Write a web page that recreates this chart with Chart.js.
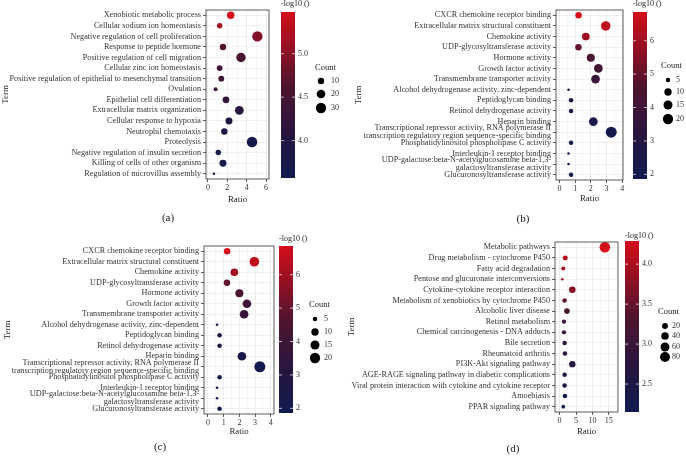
<!DOCTYPE html>
<html>
<head>
<meta charset="utf-8">
<script src="https://cdn.jsdelivr.net/npm/chart.js"></script>
<style>
body{margin:0;background:#fff;}
#wrap{position:relative;width:686px;height:458px;overflow:hidden;}
canvas{position:absolute;width:343px;height:229px;}
</style>
</head>
<body>
<div id="wrap">
<canvas id="ca" width="343" height="229" style="left:0;top:0"></canvas>
<canvas id="cb" width="343" height="229" style="left:343px;top:0"></canvas>
<canvas id="cc" width="343" height="229" style="left:0;top:229px"></canvas>
<canvas id="cd" width="343" height="229" style="left:343px;top:229px"></canvas>
</div>
<script>
// (a) GO biological process
let termsA = [
    "Xenobiotic metabolic process",
    "Cellular sodium ion homeostasis",
    "Negative regulation of cell proliferation",
    "Response to peptide hormone",
    "Positive regulation of cell migration",
    "Cellular zinc ion homeostasis",
    "Positive regulation of epithelial to mesenchymal transition",
    "Ovulation",
    "Epithelial cell differentiation",
    "Extracellular matrix organization",
    "Cellular response to hypoxia",
    "Neutrophil chemotaxis",
    "Proteolysis",
    "Negative regulation of insulin secretion",
    "Killing of cells of other organism",
    "Regulation of microvillus assembly"
];
let ratioA = [2.35,1.21,5.1,1.55,3.41,1.21,1.38,0.79,1.86,3.24,2.17,1.69,4.55,1.07,1.55,0.62];
let logpA  = [5.48,5.2,4.95,4.62,4.55,4.48,4.4,4.3,4.2,4.05,3.95,3.88,3.72,3.66,3.62,3.57];
let countA = [14,7,30,10,24,8,8,4,11,20,12,10,32,7,12,3];
let xticksA = [0,2,4,6];
let cbTicksA = [4.0,4.5,5.0];
let legCountA = [10,20,30];

// (b) and (c) GO molecular function
let termsB = [
    "CXCR chemokine receptor binding",
    "Extracellular matrix structural constituent",
    "Chemokine activity",
    "UDP-glycosyltransferase activity",
    "Hormone activity",
    "Growth factor activity",
    "Transmembrane transporter activity",
    "Alcohol dehydrogenase activity, zinc-dependent",
    "Peptidoglycan binding",
    "Retinol dehydrogenase activity",
    "Heparin binding",
    ["Transcriptional repressor activity, RNA polymerase II","transcription regulatory region sequence-specific binding"],
    "Phosphatidylinositol phospholipase C activity",
    "Interleukin-1 receptor binding",
    ["UDP-galactose:beta-N-acetylglucosamine beta-1,3-","galactosyltransferase activity"],
    "Glucuronosyltransferase activity"
];
let ratioB = [1.22,2.95,1.68,1.21,2.0,2.48,2.3,0.58,0.74,0.74,2.16,3.3,0.74,0.58,0.58,0.74];
let logpB  = [6.86,6.5,6.0,5.0,4.4,4.15,3.9,2.6,2.5,2.45,2.3,2.1,2.05,2.0,1.95,1.86];
let countB = [8,17,11,8,12,14,14,4,5,5,14,23,5,4,4,5];
let xticksB = [0,1,2,3,4];
let cbTicksB = [2,3,4,5,6];
let legCountB = [5,10,15,20];

// (d) KEGG
let termsD = [
    "Metabolic pathways",
    "Drug metabolism - cytochrome P450",
    "Fatty acid degradation",
    "Pentose and glucuronate interconversions",
    "Cytokine-cytokine receptor interaction",
    "Metabolism of xenobiotics by cytochrome P450",
    "Alcoholic liver disease",
    "Retinol metabolism",
    "Chemical carcinogenesis - DNA adducts",
    "Bile secretion",
    "Rheumatoid arthritis",
    "PI3K-Akt signaling pathway",
    "AGE-RAGE signaling pathway in diabetic complications",
    "Viral protein interaction with cytokine and cytokine receptor",
    "Amoebiasis",
    "PPAR signaling pathway"
];
let ratioD = [13.8,1.73,1.12,0.82,3.88,1.53,2.24,1.33,1.33,1.53,1.63,3.88,1.53,1.53,1.63,1.12];
let logpD  = [4.29,4.1,3.95,3.9,3.75,3.45,3.3,3.1,3.0,2.85,2.75,2.6,2.45,2.35,2.25,2.15];
let countD = [95,13,8,5,27,10,18,9,9,10,10,25,10,10,10,7];
let xticksD = [0,5,10,15];
let cbTicksD = [2.5,3.0,3.5,4.0];
let legCountD = [20,40,60,80];

const SERIF = "'Liberation Serif','Times New Roman',serif";
const txt = "#333";
const FS = 8.2;

// navy -> dark maroon -> red
const stops = [[0,[16,27,80]],[0.25,[38,22,64]],[0.55,[78,20,48]],[0.8,[152,16,34]],[1,[212,14,26]]];
function cmap(t){
    t = Math.max(0, Math.min(1, t));
    for(let i=1;i<stops.length;i++){
        if(t<=stops[i][0]){
            let a=stops[i-1], b=stops[i];
            let f=(t-a[0])/(b[0]-a[0]);
            let c=a[1].map((v,k)=>Math.round(v+(b[1][k]-v)*f));
            return "rgb("+c.join(",")+")";
        }
    }
    return "rgb(212,14,26)";
}

function panel(id, p){
    let rad = c => p.rmin + (p.rmax-p.rmin)*Math.sqrt(Math.max(0,(c-p.cmin)/(p.cmax-p.cmin)));
    let lo = Math.min(...p.logp), hi = Math.max(...p.logp);
    let pts = p.terms.map((t,i)=>({x:p.ratio[i], y:i, r:rad(p.count[i])}));
    let cols = p.logp.map(v=>cmap((v-lo)/(hi-lo)));
    let isMajor = v => p.xticks.some(t=>Math.abs(t-v)<1e-6);

    let deco = {
        id:"deco"+id,
        afterDraw(chart){
            let ctx = chart.ctx, a = chart.chartArea;
            ctx.save();
            // panel border
            ctx.strokeStyle = "#333";
            ctx.lineWidth = 0.8;
            ctx.strokeRect(a.left, a.top, a.right-a.left, a.bottom-a.top);

            // colour bar
            let cb = p.cb;
            for(let y=cb.y0; y<cb.y1; y++){
                ctx.fillStyle = cmap(1-(y+0.5-cb.y0)/(cb.y1-cb.y0));
                ctx.fillRect(cb.x, y, cb.w, 1);
            }
            ctx.font = "8px "+SERIF;
            ctx.textBaseline = "middle";
            ctx.textAlign = "left";
            ctx.strokeStyle = "rgba(255,255,255,0.9)";
            ctx.lineWidth = 0.8;
            p.cbTicks.forEach(v=>{
                let y = cb.y1 - (v-lo)/(hi-lo)*(cb.y1-cb.y0);
                ctx.beginPath();
                ctx.moveTo(cb.x, y); ctx.lineTo(cb.x+3, y);
                ctx.moveTo(cb.x+cb.w-3, y); ctx.lineTo(cb.x+cb.w, y);
                ctx.stroke();
                ctx.fillStyle = txt;
                ctx.fillText(v.toFixed(cb.dec), cb.x+cb.w+3, y);
            });
            ctx.fillStyle = "#222";
            ctx.fillText("-log10 ()", cb.x, cb.ty);

            // size legend
            let lg = p.leg;
            ctx.font = "8.5px "+SERIF;
            ctx.fillText("Count", lg.tx, lg.ty);
            ctx.font = "8px "+SERIF;
            p.legCount.forEach((v,i)=>{
                ctx.fillStyle = "#000";
                ctx.beginPath();
                ctx.arc(lg.cx, lg.ys[i], rad(v), 0, Math.PI*2);
                ctx.fill();
                ctx.fillStyle = txt;
                ctx.fillText(String(v), lg.lx, lg.ys[i]);
            });

            // panel tag
            ctx.font = "11px "+SERIF;
            ctx.textAlign = "center";
            ctx.fillStyle = "#222";
            ctx.fillText(p.tag.text, p.tag.x, p.tag.y);
            ctx.restore();
        }
    };

    new Chart(document.getElementById(id), {
        type:"bubble",
        data:{datasets:[{data:pts, backgroundColor:cols, borderWidth:0}]},
        options:{
            responsive:false,
            animation:false,
            events:[],
            layout:{padding:{left:p.padL, top:p.top, right:343-p.right, bottom:p.padB}},
            plugins:{legend:{display:false}, tooltip:{enabled:false}},
            scales:{
                x:{
                    type:"linear", min:p.xmin, max:p.xmax,
                    afterFit: s=>{ s.height = 229-p.padB-p.bottom; s.paddingLeft=0; s.paddingRight=0; },
                    ticks:{stepSize:p.step, includeBounds:false, autoSkip:false, maxRotation:0, padding:1,
                        font:{family:SERIF, size:8}, color:txt,
                        callback: v => isMajor(v) ? String(v) : ""},
                    grid:{color:"#ebebeb",
                        lineWidth: c => (c.tick && isMajor(c.tick.value)) ? 0.8 : 0.45,
                        tickColor: c => (c.tick && isMajor(c.tick.value)) ? "#333" : "rgba(0,0,0,0)",
                        tickLength:3, tickWidth:0.8},
                    border:{display:false},
                    title:{display:true, text:"Ratio", font:{family:SERIF, size:8.8}, color:"#222", padding:0}
                },
                y:{
                    type:"category", labels:p.terms, offset:true,
                    afterFit: s=>{ s.width = p.left-p.padL; s.paddingTop=0; s.paddingBottom=0; },
                    ticks:{autoSkip:false, padding:2, font:{family:SERIF, size:FS, lineHeight:1.0}, color:txt},
                    grid:{offset:false, color:"#ebebeb", lineWidth:0.8, tickColor:"#333", tickLength:3, tickWidth:0.8},
                    border:{display:false},
                    title:{display:true, text:"Term", font:{family:SERIF, size:8.8}, color:"#222", padding:0}
                }
            }
        },
        plugins:[deco]
    });
}

panel("ca", {
    terms:termsA, ratio:ratioA, logp:logpA, count:countA, xticks:xticksA, cbTicks:cbTicksA, legCount:legCountA,
    xmin:-0.2, xmax:6.3, step:1, left:206, right:269, top:10, bottom:179, padL:0, padB:24,
    cmin:3, cmax:32, rmin:1.2, rmax:5.3,
    cb:{x:281, y0:12, y1:178, w:14, dec:1, ty:4},
    leg:{tx:315, ty:68, cx:321, lx:331, ys:[81,94,108]},
    tag:{text:"(a)", x:168, y:218}
});
panel("cb", {
    terms:termsB, ratio:ratioB, logp:logpB, count:countB, xticks:xticksB, cbTicks:cbTicksB, legCount:legCountB,
    xmin:-0.22, xmax:4.05, step:0.5, left:213, right:280, top:10, bottom:180, padL:10, padB:25,
    cmin:4, cmax:23, rmin:1.3, rmax:5.5,
    cb:{x:290, y0:12, y1:179, w:14, dec:0, ty:4},
    leg:{tx:318, ty:66, cx:325, lx:333, ys:[80,92,105,119]},
    tag:{text:"(b)", x:180, y:219}
});
panel("cc", {
    terms:termsB, ratio:ratioB, logp:logpB, count:countB, xticks:xticksB, cbTicks:cbTicksB, legCount:legCountB,
    xmin:-0.25, xmax:4.2, step:0.5, left:204, right:274, top:17, bottom:185, padL:2, padB:21,
    cmin:4, cmax:23, rmin:1.3, rmax:5.5,
    cb:{x:279, y0:17, y1:184, w:14, dec:0, ty:10},
    leg:{tx:309, ty:76, cx:315, lx:324, ys:[90,103,116,129]},
    tag:{text:"(c)", x:160, y:218}
});
panel("cd", {
    terms:termsD, ratio:ratioD, logp:logpD, count:countD, xticks:xticksD, cbTicks:cbTicksD, legCount:legCountD,
    xmin:-1.4, xmax:17.8, step:2.5, left:212, right:275, top:13, bottom:183, padL:3, padB:21,
    cmin:5, cmax:95, rmin:1.3, rmax:5.3,
    cb:{x:282, y0:12, y1:183, w:14, dec:1, ty:7},
    leg:{tx:315, ty:83, cx:322, lx:329, ys:[97,107,118,128]},
    tag:{text:"(d)", x:170, y:220}
});
</script>
</body>
</html>
